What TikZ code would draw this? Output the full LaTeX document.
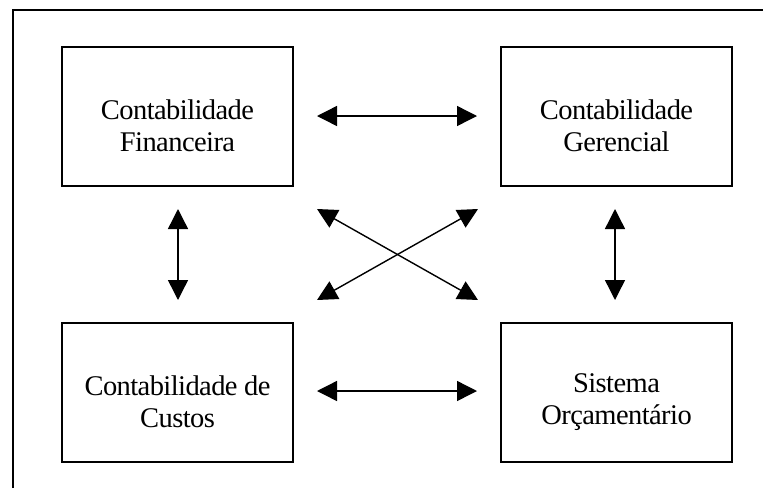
\documentclass[tikz,border=0pt]{standalone}
\usepackage{fontspec}
\setmainfont{Liberation Serif}[LetterSpace=-2]
\usetikzlibrary{arrows.meta}
\begin{document}
\begin{tikzpicture}[x=1pt,y=-1pt,
  area/.style={draw,line width=1.5pt,minimum width=231pt,minimum height=139pt,inner sep=0pt},
  caption/.style={align=center,inner sep=0pt,font=\fontsize{28.5}{32}\selectfont},
  link/.style={line width=1.4pt,{Triangle[length=20pt,width=20pt]}-{Triangle[length=20pt,width=20pt]}}]
  \useasboundingbox (0,0) rectangle (763,488);
  % outer frame
  \draw[line width=1.5pt] (13,488) -- (13,10) -- (763,10);
  % the four areas
  \node[area] (fin) at (177.5,116.5) {};
  \node[area] (ger) at (616.5,116.5) {};
  \node[area] (cus) at (177.5,392.5) {};
  \node[area] (orc) at (616.5,392.5) {};
  \node[caption] (tfin) at (177.5,126) {Contabilidade\\Financeira};
  \node[caption] (tger) at (616.5,126) {Contabilidade\\Gerencial};
  \node[caption] (tcus) at (177.5,402) {Contabilidade de\\Custos};
  \node[caption] (torc) at (616.5,402) {Sistema\\Orçamentário};
  % arrow ends
  \coordinate (h1a) at (317,116);
  \coordinate (h1b) at (477,116);
  \coordinate (h2a) at (317,391);
  \coordinate (h2b) at (477,391);
  \coordinate (v1a) at (178,209);
  \coordinate (v1b) at (178,300);
  \coordinate (v2a) at (615,209);
  \coordinate (v2b) at (615,300);
  \coordinate (dtl) at (317,209);
  \coordinate (dtr) at (478,209);
  \coordinate (dbl) at (317,300);
  \coordinate (dbr) at (478,300);
  % relations
  \draw[link] (h1a) -- (h1b);
  \draw[link] (h2a) -- (h2b);
  \draw[link] (v1a) -- (v1b);
  \draw[link] (v2a) -- (v2b);
  \draw[link] (dtl) -- (dbr);
  \draw[link] (dbl) -- (dtr);
\end{tikzpicture}
\end{document}
